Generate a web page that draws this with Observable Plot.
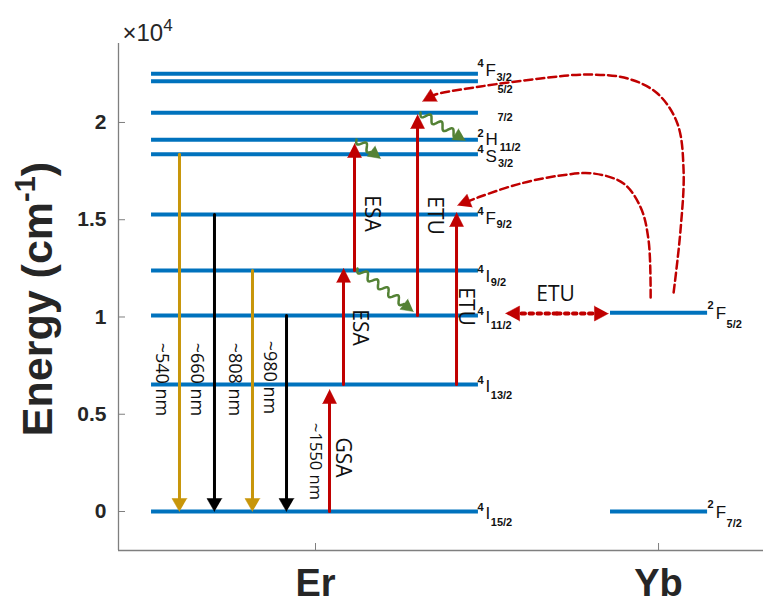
<!DOCTYPE html>
<html><head><meta charset="utf-8">
<script src="https://cdn.jsdelivr.net/npm/d3@7"></script>
<script src="https://cdn.jsdelivr.net/npm/@observablehq/plot@0.6"></script>
<style>body{margin:0;background:#fff}svg{display:block}</style>
</head><body><div id="chart"></div>
<script>
// ---------------- data ----------------
const ionTicks = [1, 2];
const ionNames = ["Er", "Yb"];
const energyTicks = [0, 5000, 10000, 15000, 20000];
const xDomain = [0.4257, 2.306];
const yDomain = [-2005, 24060];

const erLevelEnergy = [0, 6530, 10080, 12390, 15270, 18360, 19110, 20500, 22120, 22500];
const erLevelSup  = ["4", "4", "4", "4", "4", "4", "2", "", "", "4"];
const erLevelMain = ["I", "I", "I", "I", "F", "S", "H", "", "", "F"];
const erLevelSub  = ["15/2", "13/2", "11/2", "9/2", "9/2", "3/2", "11/2", "7/2", "5/2", "3/2"];
const erSpan = [0.522, 1.475];

const ybLevelEnergy = [0, 10220];
const ybLevelSup  = ["2", "2"];
const ybLevelMain = ["F", "F"];
const ybLevelSub  = ["7/2", "5/2"];
const ybSpan = [1.86, 2.143];

// emissions (down arrows)
const emX      = [0.6035, 0.7055, 0.8163, 0.9155];
const emFrom   = [18360, 15270, 12390, 10080];
const emTo     = [0, 0, 0, 0];
const emLabels = ["~540 nm", "~660 nm", "~808 nm", "~980 nm"];

// absorptions / upconversion (up arrows)
const absNames = ["GSA", "ESA", "ESA", "ETU", "ETU"];
const absX     = [1.0408, 1.0816, 1.1137, 1.2974, 1.4111];
const absFrom  = [0, 6530, 12390, 10080, 6530];
const absTo    = [6272, 12500, 18919, 20410, 15372];

// non-radiative relaxation (wavy arrows): start and tip
const relaxFrom = [[1.1195, 19124], [1.306, 20513], [1.1224, 12493]];
const relaxTo   = [[1.190, 18148], [1.437, 19073], [1.2857, 10282]];

// energy transfer Yb -> Er (dashed curves), last entry is the arrow tip
const etOuter = [[2.044, 11259], [2.064, 14446], [2.073, 17531], [2.055, 19947], [1.997, 21489], [1.910, 22261], [1.793, 22466], [1.656, 22261], [1.481, 21849], [1.350, 21440], [1.312, 21078]];
const etInner = [[1.977, 11002], [1.971, 13932], [1.948, 15629], [1.898, 16862], [1.810, 17377], [1.714, 17274], [1.598, 16862], [1.481, 16194], [1.414, 15731]];
const etDotted = [[1.554, 10179], [1.854, 10179]];

// annotation texts
const annoText = ["~540 nm", "~660 nm", "~808 nm", "~980 nm"];
const annoX    = [0.551, 0.653, 0.764, 0.866];
const annoE    = [6786, 6786, 6786, 6889];
const gsaText  = ["~1550 nm"];
const gsaX     = [1.0];
const gsaE     = [2570];
const procText = ["GSA", "ESA", "ESA", "ETU", "ETU", "ETU"];
const procX    = [1.0787, 1.130, 1.163, 1.347, 1.437, 1.700];
const procE    = [2776, 9459, 15320, 15218, 10539, 11156];
const procRot  = [90, 90, 90, 90, 90, 0];

// ---------------- styles ----------------
const gold = "#c8960a", red = "#c00000", green = "#548235", blue = "#0072bd", ink = "#262626", axisGray = "#7f7f7f";
const emColor = [gold, "#000", gold, "#000"];
const W = 763, H = 604, mL = 118, mR = 0, mT = 43, mB = 54;
const kx = (W - mL - mR) / (xDomain[1] - xDomain[0]);
const ky = (H - mT - mB) / (yDomain[1] - yDomain[0]);
const toPx = (x, e) => [mL + (x - xDomain[0]) * kx, H - mB - (e - yDomain[0]) * ky];
const toData = (px, py) => [xDomain[0] + (px - mL) / kx, yDomain[0] + (H - mB - py) / ky];

const tris = [];  // {id,x,y,color}
let uid = 0;
function headed(pts, tip, color, L, hw) {
  const id = uid++;
  const [tx, ty] = toPx(...tip);
  const [fx, fy] = toPx(...pts[pts.length - 1]);
  const d = Math.hypot(tx - fx, ty - fy), ux = (tx - fx) / d, uy = (ty - fy) / d;
  const bx = tx - ux * L, by = ty - uy * L;
  [[tx, ty], [bx - uy * hw, by + ux * hw], [bx + uy * hw, by - ux * hw]].forEach(([a, b]) => {
    const [x, y] = toData(a, b); tris.push({id, x, y, color});
  });
  const line = pts.map(p => ({id, x: p[0], y: p[1]}));
  const [lx, ly] = toData(bx + ux * 2, by + uy * 2);
  line.push({id, x: lx, y: ly});
  return line;
}
function wavy(a, tip, L, amp, wl) {
  const [ax, ay] = toPx(...a), [tx, ty] = toPx(...tip);
  const d = Math.hypot(tx - ax, ty - ay), ux = (tx - ax) / d, uy = (ty - ay) / d;
  const len = d - L, n = 50, pts = [];
  for (let i = 0; i <= n; i++) {
    const s = len * i / n, off = amp * Math.sin(2 * Math.PI * s / wl);
    pts.push(toData(ax + ux * s - uy * off, ay + uy * s + ux * off));
  }
  const id = uid++;
  const bx = tx - ux * L, by = ty - uy * L;
  [[tx, ty], [bx - uy * 6.5, by + ux * 6.5], [bx + uy * 6.5, by - ux * 6.5]].forEach(([p, q]) => {
    const [x, y] = toData(p, q); tris.push({id, x, y, color: green});
  });
  return pts.map(p => ({id, x: p[0], y: p[1]}));
}

const emLines = emX.flatMap((x, i) => headed([[x, emFrom[i]]], [x, emTo[i]], emColor[i], 13, 7.5).map(d => ({...d, color: emColor[i]})));
const absLines = absX.flatMap((x, i) => headed([[x, absFrom[i]]], [x, absTo[i]], red, 14, 7));
const waves = relaxFrom.flatMap((a, i) => wavy(a, relaxTo[i], 12, 3.5, 13));
const outerLine = headed(etOuter.slice(0, -1), etOuter[etOuter.length - 1], red, 13, 7);
const innerLine = headed(etInner.slice(0, -1), etInner[etInner.length - 1], red, 13, 7);
const dotMid = [(etDotted[0][0] + etDotted[1][0]) / 2, etDotted[0][1]];
const dotA = headed([dotMid], etDotted[0], red, 14, 7.5);
const dotB = headed([dotMid], etDotted[1], red, 14, 7.5);

const erIdx = erLevelEnergy.map((_, i) => i);
const ybIdx = ybLevelEnergy.map((_, i) => i);

const plot = Plot.plot({
  width: W, height: H,
  marginLeft: mL, marginRight: mR, marginTop: mT, marginBottom: mB,
  style: {fontFamily: "Liberation Sans, Arial, sans-serif", color: ink, background: "#fff"},
  x: {domain: xDomain},
  y: {domain: yDomain},
  color: {type: "identity"},
  marks: [
    Plot.axisY({ticks: energyTicks, tickFormat: d => String(d / 1e4), tickSize: 0, tickPadding: 12, fontSize: 21, fontWeight: "bold", label: null}),
    Plot.axisX({ticks: ionTicks, tickFormat: d => ionNames[ionTicks.indexOf(d)], tickSize: 0, tickPadding: 19, fontSize: 38, fontWeight: "bold", label: null}),
    Plot.ruleX([xDomain[0]], {stroke: axisGray, strokeWidth: 1.3}),
    Plot.ruleY([yDomain[0]], {stroke: axisGray, strokeWidth: 1.3}),
    Plot.ruleY(energyTicks, {y: d => d, x1: xDomain[0], x2: xDomain[0] + 7 / kx, stroke: axisGray}),
    Plot.ruleX(ionTicks, {x: d => d, y1: yDomain[0], y2: yDomain[0] + 7 / ky, stroke: axisGray}),
    // levels
    Plot.ruleY(erLevelEnergy, {y: d => d, x1: erSpan[0], x2: erSpan[1], stroke: blue, strokeWidth: 4}),
    Plot.ruleY(ybLevelEnergy, {y: d => d, x1: ybSpan[0], x2: ybSpan[1], stroke: blue, strokeWidth: 4}),
    // energy transfer
    Plot.line(outerLine, {x: "x", y: "y", curve: "catmull-rom", stroke: red, strokeWidth: 2.5, strokeDasharray: "8,4"}),
    Plot.line(innerLine, {x: "x", y: "y", curve: "catmull-rom", stroke: red, strokeWidth: 2.5, strokeDasharray: "8,4"}),
    Plot.line(dotA, {x: "x", y: "y", stroke: red, strokeWidth: 4, strokeDasharray: "3.5,4.5"}),
    Plot.line(dotB, {x: "x", y: "y", stroke: red, strokeWidth: 4, strokeDasharray: "3.5,4.5"}),
    // arrows
    Plot.line(emLines, {x: "x", y: "y", z: "id", stroke: "color", strokeWidth: 3}),
    Plot.line(absLines, {x: "x", y: "y", z: "id", stroke: red, strokeWidth: 3}),
    Plot.line(waves, {x: "x", y: "y", z: "id", stroke: green, strokeWidth: 2.5}),
    Plot.line(tris, {x: "x", y: "y", z: "id", fill: "color", stroke: "color", strokeWidth: 0.5}),
    // annotations
    Plot.text(annoText, {x: (d, i) => annoX[i], y: (d, i) => annoE[i], text: d => d, rotate: 90, fontSize: 18, fontFamily: "Open Sans", fill: "#111"}),
    Plot.text(gsaText, {x: (d, i) => gsaX[i], y: (d, i) => gsaE[i], text: d => d, rotate: 90, fontSize: 16.5, fontFamily: "Open Sans", fill: "#111"}),
    Plot.text(procText, {x: (d, i) => procX[i], y: (d, i) => procE[i], text: d => d, rotate: (d, i) => procRot[i], fontSize: 21, fontFamily: "Open Sans", fill: "#111"}),
    // level labels (rich text applied below)
    Plot.text(erIdx, {x: erSpan[1], y: i => erLevelEnergy[i], text: i => "§er" + i, textAnchor: "start", lineAnchor: "bottom", dx: -1, fontSize: 16, fill: "#111"}),
    Plot.text(ybIdx, {x: ybSpan[1], y: i => ybLevelEnergy[i], text: i => "§yb" + i, textAnchor: "start", lineAnchor: "bottom", dx: 0, fontSize: 16, fill: "#111"}),
    // axis title & multiplier
    Plot.text(["§ylabel"], {frameAnchor: "left", dx: -67, dy: 2, rotate: -90, lineAnchor: "bottom", textAnchor: "middle", fontSize: 43, fontWeight: "bold", fill: ink}),
    Plot.text(["§x10"], {frameAnchor: "top-left", dx: 4, dy: -3, lineAnchor: "bottom", textAnchor: "start", fontSize: 24, fill: ink})
  ]
});
document.getElementById("chart").appendChild(plot);

// ---------- rich text (superscripts / subscripts) ----------
const erMainDy = [7, 8, 8, 12, 10, 8, 5, 8, 12, 2];
const erSupShift = [-8, -8, -8, -9, -9, -9, -8, 0, 0, -9];
const erSubShift = [7, 7, 6, 4, 4, 5, 6, 0, 0, 5];
const erSubDx = [0.5, 0.5, 0.5, 0.5, 0.5, 1, 2, 0, 0, 0.5];
const ybMainDy = [6, 6];
function levelLabel(el, sup, main, sub, mainDy, supShift, subShift, subDx) {
  const t = d3.select(el); t.text(null);
  if (!sup && !main) {
    t.append("tspan").attr("dx", 20).attr("dy", mainDy).attr("font-size", 11).attr("font-weight", "bold").text(sub);
    return;
  }
  t.append("tspan").attr("dy", mainDy + supShift).attr("font-size", 11).attr("font-weight", "bold").text(sup);
  t.append("tspan").attr("dx", 2).attr("dy", -supShift).attr("font-size", 17).text(main);
  t.append("tspan").attr("dx", subDx).attr("dy", subShift).attr("font-size", 11).attr("font-weight", "bold").text(sub);
}
d3.select(plot).selectAll("text").each(function () {
  const s = this.textContent;
  if (s.startsWith("§er")) {
    const i = +s.slice(3);
    levelLabel(this, erLevelSup[i], erLevelMain[i], erLevelSub[i], erMainDy[i], erSupShift[i], erSubShift[i], erSubDx[i]);
  } else if (s.startsWith("§yb")) {
    const i = +s.slice(3);
    levelLabel(this, ybLevelSup[i], ybLevelMain[i], ybLevelSub[i], ybMainDy[i], -10, 9, 0.5);
  } else if (s === "§ylabel") {
    const t = d3.select(this); t.text(null);
    t.append("tspan").text("Energy (cm");
    t.append("tspan").attr("dy", -17).attr("font-size", 29).text("-1");
    t.append("tspan").attr("dy", 17).text(")");
  } else if (s === "§x10") {
    const t = d3.select(this); t.text(null);
    t.append("tspan").text("×10");
    t.append("tspan").attr("dy", -10).attr("font-size", 17).text("4");
  }
});
</script></body></html>
